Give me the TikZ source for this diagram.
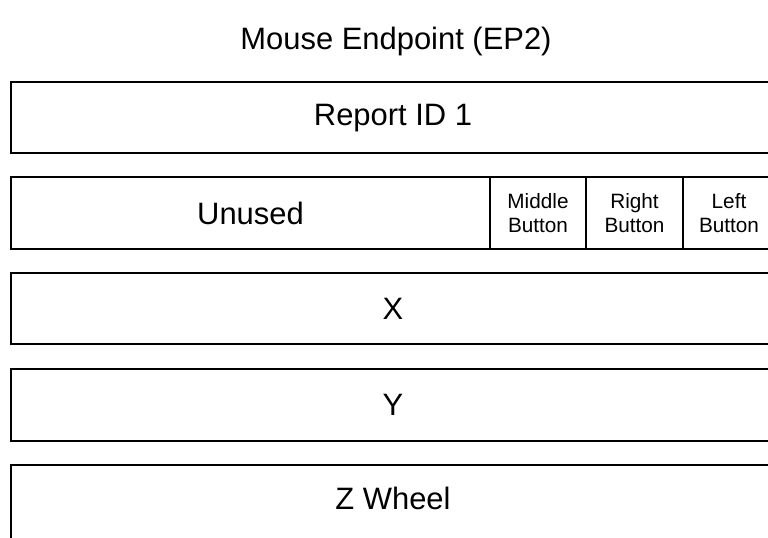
\documentclass[tikz,border=0pt]{standalone}
\usepackage{fontspec}
\setmainfont{Liberation Sans}
\usetikzlibrary{positioning}

\tikzset{
    field/.style={draw, line width=0.04cm, inner sep=0pt, outer sep=0pt,
        minimum height=1.43cm, anchor=north west,
        font=\fontsize{17.6}{20}\selectfont},
    bitfield/.style={field, align=center,
        font=\fontsize{11.8}{13.6}\selectfont}
}

\begin{document}
\begin{tikzpicture}
    \useasboundingbox (0,0) rectangle (15.36,10.74);

    % Title
    \node[font=\fontsize{17.6}{20}\selectfont] (title) at (7.92, 9.9) {Mouse Endpoint (EP2)};

    % Report ID byte
    \node[field, minimum width=15.28cm] (reportid) at (0.22, 9.1) {Report ID 1};

    % Button byte
    \node[field, minimum width=9.58cm] (unused) at (0.22, 7.19) {Unused};
    \node[bitfield, minimum width=1.92cm, right=0pt of unused] (middle) {Middle\\Button};
    \node[bitfield, minimum width=1.94cm, right=0pt of middle] (rightbtn) {Right\\Button};
    \node[bitfield, minimum width=1.84cm, right=0pt of rightbtn] (leftbtn) {Left\\Button};

    % Movement bytes
    \foreach \name/\y/\txt in {xbyte/5.28/X, ybyte/3.35/Y} {
        \node[field, minimum width=15.28cm] (\name) at (0.22, \y) {\txt};
    }

    % Wheel byte runs off the bottom of the page
    \node[field, draw=none, minimum width=15.28cm, minimum height=1.32cm] (wheel) at (0.22, 1.43) {Z Wheel};
    \draw[line width=0.04cm] ([yshift=-0.3cm]wheel.south west) -- (wheel.north west)
        -- (wheel.north east) -- ([yshift=-0.3cm]wheel.south east);
\end{tikzpicture}
\end{document}
